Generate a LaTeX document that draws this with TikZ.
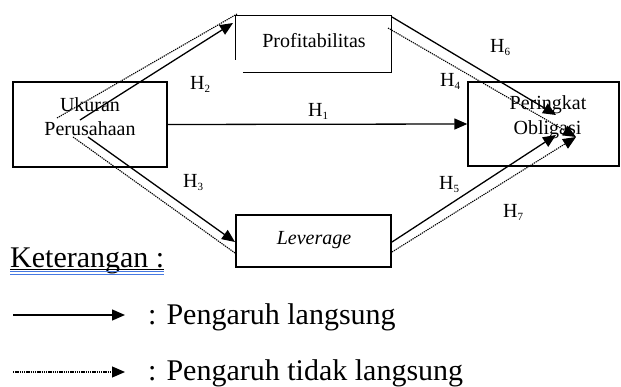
\documentclass[tikz,border=0pt]{standalone}
\usepackage{fontspec}
\setmainfont{Liberation Serif}
\usetikzlibrary{arrows.meta}
\definecolor{spellblue}{RGB}{70,120,225}
\newcommand\Hsub[1]{H\raisebox{-3pt}{\fontsize{11}{11}\selectfont #1}}
\begin{document}
\begin{tikzpicture}[x=1pt,y=-1pt,
  box/.style={draw, line width=1.3pt, inner sep=0pt},
  btxt/.style={font=\fontsize{20}{24}\selectfont, inner sep=0pt, anchor=base},
  hlab/.style={font=\fontsize{20}{24}\selectfont, inner sep=0pt, anchor=base west},
  solidarr/.style={line width=1.3pt, -{Triangle[length=13pt,width=11pt]}},
  dotarr/.style={line width=1.1pt, black, dash pattern=on 1.3pt off 0.9pt, -{Triangle[length=13pt,width=11pt]}},
  dotline/.style={line width=1.1pt, black, dash pattern=on 1.3pt off 0.9pt},
  legtxt/.style={font=\fontsize{30}{36}\selectfont, inner sep=0pt, anchor=base west}
]
\useasboundingbox (0,0) rectangle (621,387);

% boxes
\node[box, minimum width=154pt, minimum height=85pt] (uk) at (90,124.5) {};
\node[btxt] (ukA) at (90,112) {Ukuran};
\node[btxt] (ukB) at (90,136) {Perusahaan};

\node[inner sep=0pt, minimum width=155pt, minimum height=56pt] (pr) at (313.5,44) {};
\draw[line width=1.3pt] ([xshift=7pt]pr.south west) -- (pr.south east) -- (pr.north east) -- (pr.north west) -- ([yshift=12pt]pr.south west);
\node[btxt] (prT) at (314,48) {Profitabilitas};

\node[box, minimum width=151pt, minimum height=84pt] (pe) at (543.5,124) {};
\node[btxt] (peA) at (548,110) {Peringkat};
\node[btxt] (peB) at (547.5,135) {Obligasi};

\node[box, minimum width=155pt, minimum height=52pt] (lv) at (313.5,241) {};
\node[btxt] (lvT) at (314,245) {\itshape Leverage};

% connector end points
\coordinate (ukp1) at (80,120);
\coordinate (ukp2) at (57,118);
\coordinate (prt1) at (233,23);
\coordinate (prt2) at (237,14);
\coordinate (ukl1) at (88,137);
\coordinate (ukl2) at (73,137);
\coordinate (lvt1) at (235,242);
\coordinate (lvt2) at (235,253);
\coordinate (prp1) at (392,17);
\coordinate (prp2) at (388,28);
\coordinate (pet1) at (556,115);
\coordinate (pet2) at (576,137);
\coordinate (pet3) at (556,135);
\coordinate (lvp1) at (392,242);
\coordinate (lvp2) at (392,252);

% connectors
\draw[solidarr] (uk.east) -- (pe.west);
\draw[dotline] (ukp2) -- (prt2);
\draw[solidarr] (ukp1) -- (prt1);
\draw[dotline] (ukl2) -- (lvt2);
\draw[solidarr] (ukl1) -- (lvt1);
\draw[dotarr] (prp2) -- (pet2);
\draw[solidarr] (prp1) -- (pet1);
\draw[dotarr] (lvp2) -- (pet2);
\draw[solidarr] (lvp1) -- (pet3);

% labels
\node[hlab] (h1) at (308,117) {\Hsub{1}};
\node[hlab] (h2) at (190,90) {\Hsub{2}};
\node[hlab] (h3) at (183,188) {\Hsub{3}};
\node[hlab] (h4) at (440,87) {\Hsub{4}};
\node[hlab] (h5) at (439,190) {\Hsub{5}};
\node[hlab] (h6) at (490,53) {\Hsub{6}};
\node[hlab] (h7) at (503,218) {\Hsub{7}};

% legend
\node[legtxt] (ket) at (10,268) {Keterangan :};
\draw[line width=1pt] ([yshift=-1.5pt]ket.base west) -- ([yshift=-1.5pt]ket.base east);
\draw[spellblue, line width=0.9pt] ([yshift=-3.8pt]ket.base west) -- ([yshift=-3.8pt]ket.base east);
\draw[spellblue, line width=0.9pt] ([yshift=-6.3pt]ket.base west) -- ([yshift=-6.3pt]ket.base east);

\coordinate (l1a) at (13,315);
\coordinate (l1b) at (125,315);
\draw[solidarr] (l1a) -- (l1b);
\node[legtxt] (lg1) at (148,324) {: Pengaruh langsung};

\coordinate (l2a) at (13,372);
\coordinate (l2b) at (125,372);
\draw[dotarr] (l2a) -- (l2b);
\node[legtxt] (lg2) at (148,380) {: Pengaruh tidak langsung};
\end{tikzpicture}
\end{document}
